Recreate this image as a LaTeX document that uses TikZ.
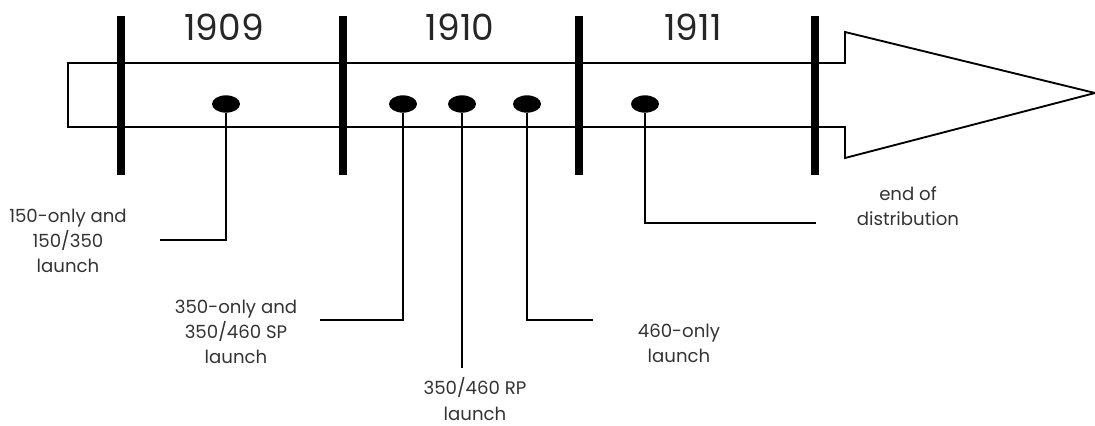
\documentclass[tikz,border=0pt]{standalone}
\usepackage{fontspec}
\setmainfont{Poppins}
\usetikzlibrary{shapes.geometric}

\tikzset{
  yearbar/.style={line width=6pt},
  eventdot/.style={ellipse, fill=black, minimum width=21pt, minimum height=13pt, inner sep=0pt},
  eventlabel/.style={align=center, text=black!80, font=\fontsize{13.6}{18.8}\selectfont},
  yearlabel/.style={text=black!85, font=\fontsize{27}{30}\selectfont},
  leader/.style={line width=1.5pt}
}

\begin{document}
\begin{tikzpicture}[x=0.75pt, y=-0.75pt]

    \useasboundingbox (0,0) rectangle (1095,425);

    % ==========================================
    % TIME ARROW
    % ==========================================
    \draw[line width=1.4pt, line join=miter]
        (68,63) -- (845,63) -- (845,32) -- (1095,93) -- (845,158) -- (845,127) -- (68,127) -- cycle;

    % Year boundaries
    \foreach \xb in {121, 343, 579, 815}
        \draw[yearbar] (\xb,16) -- (\xb,175);

    % Years
    \node[yearlabel] (y1909) at (224,27) {1909};
    \node[yearlabel] (y1910) at (460,27) {1910};
    \node[yearlabel] (y1911) at (693,27) {1911};

    % ==========================================
    % EVENTS
    % ==========================================
    \node[eventdot] (d1) at (226,104) {};
    \node[eventdot] (d2) at (403,104) {};
    \node[eventdot] (d3) at (462,104) {};
    \node[eventdot] (d4) at (527,104) {};
    \node[eventdot] (d5) at (645,104) {};

    % Leader ends
    \coordinate (e1) at (160,240);
    \coordinate (e2) at (320,320);
    \coordinate (e3) at (462,368);
    \coordinate (e4) at (593,320);
    \coordinate (e5) at (816,223);

    \draw[leader] (d1.south) |- (e1);
    \draw[leader] (d2.south) |- (e2);
    \draw[leader] (d3.south) -- (e3);
    \draw[leader] (d4.south) |- (e4);
    \draw[leader] (d5.south) |- (e5);

    % Labels
    \node[eventlabel] (l1) at (68,241) {150-only and\\150/350\\launch};
    \node[eventlabel] (l2) at (236,332) {350-only and\\350/460 SP\\launch};
    \node[eventlabel] (l3) at (475,399) {350/460 RP\\launch};
    \node[eventlabel] (l4) at (679,343) {460-only\\launch};
    \node[eventlabel] (l5) at (908,206) {end of\\distribution};

\end{tikzpicture}
\end{document}
